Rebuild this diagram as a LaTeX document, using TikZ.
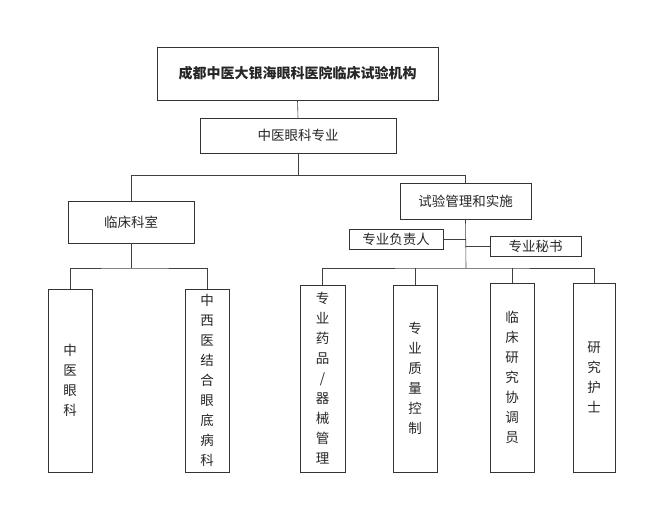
\documentclass[tikz,border=0pt]{standalone}
\usepackage{fontspec}
\setmainfont{Noto Sans CJK SC}
\begin{document}
\begin{tikzpicture}[x=1pt,y=-1pt,line width=0.6pt,color=black!75,
  bx/.style={draw=black!80,text=black!85,inner sep=0pt,font=\fontsize{13.5}{15}\selectfont},
  vt/.style={bx,align=center,font=\fontsize{13.5}{20}\selectfont}]
\useasboundingbox (0,0) rectangle (647,505);
\node[bx,minimum width=281,minimum height=53,font=\bfseries\fontsize{14}{15}\selectfont] (top) at (297.5,73.5) {成都中医大银海眼科医院临床试验机构};
\node[bx,minimum width=196,minimum height=35] (zy) at (298,135.5) {中医眼科专业};
\node[bx,minimum width=126,minimum height=42] (lc) at (131,222) {临床科室};
\node[bx,minimum width=131,minimum height=36] (sy) at (465.5,201) {试验管理和实施};
\node[bx,minimum width=94,minimum height=20] (fz) at (396,239) {专业负责人};
\node[bx,minimum width=91,minimum height=20] (ms) at (535.5,246) {专业秘书};
\node[vt,minimum width=44,minimum height=183] (b1) at (70,380.5) {中\\医\\眼\\科};
\node[vt,minimum width=44,minimum height=183] (b2) at (207,380.5) {中\\西\\医\\结\\合\\眼\\底\\病\\科};
\node[vt,minimum width=45,minimum height=187] (b3) at (322.5,378.5) {专\\业\\药\\品\\/\\器\\械\\管\\理};
\node[vt,minimum width=44,minimum height=187] (b4) at (415,378.5) {专\\业\\质\\量\\控\\制};
\node[vt,minimum width=44,minimum height=189] (b5) at (512,377.5) {临\\床\\研\\究\\协\\调\\员};
\node[vt,minimum width=42,minimum height=189] (b6) at (594,377.5) {研\\究\\护\\士};
\draw (top.south) -- (zy.north);
\draw (zy.south) -- ++(0,22) coordinate (m);
\draw (m -| lc.north) -- (m -| sy.north);
\draw (m -| lc.north) -- (lc.north);
\draw (m -| sy.north) -- (sy.north);
\coordinate (lh) at (131,268);
\draw (lc.south) -- (lh);
\draw (b1.north) |- (lh) -| (b2.north);
\coordinate (rh) at (466,268);
\draw (sy.south) -- (rh);
\draw (fz.east) -- (fz.east -| rh);
\draw (ms.west) -- (ms.west -| rh);
\draw (b3.north) |- (rh) -| (b6.north);
\draw (b4.north) -- (b4.north |- rh);
\draw (b5.north) -- (b5.north |- rh);
\end{tikzpicture}
\end{document}
